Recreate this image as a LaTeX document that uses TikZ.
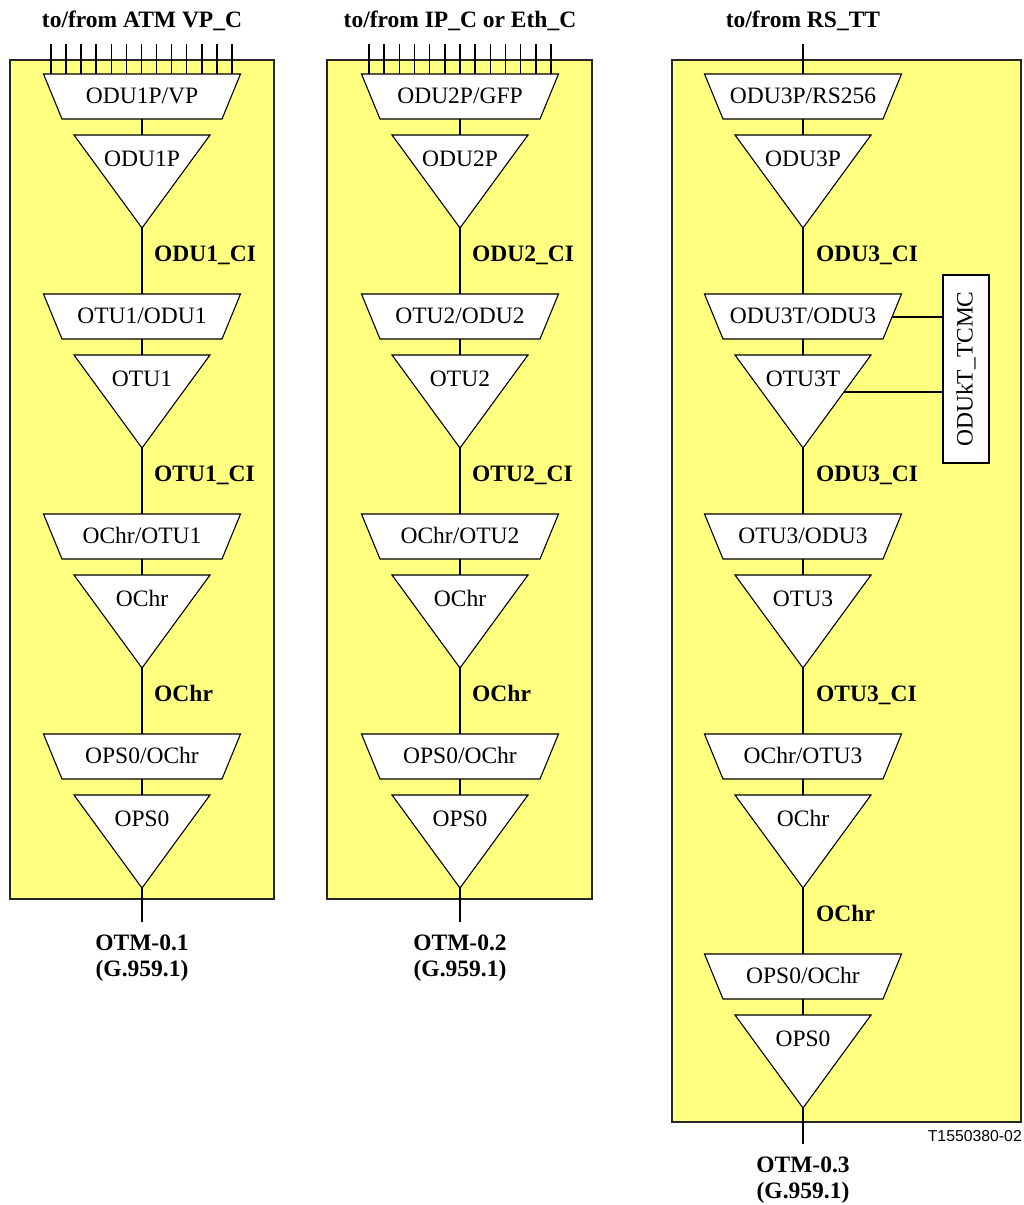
\documentclass[tikz,border=0pt]{standalone}
\usepackage{fontspec}
\setmainfont{Liberation Serif}
\newfontfamily\arialfont{Liberation Sans}
\definecolor{panelyellow}{RGB}{255,255,128}
\tikzset{
  x=1pt, y=-1pt,
  panel/.style={fill=panelyellow, draw=black!85, line width=1.4pt},
  shapefill/.style={fill=white, draw=black, line width=1.1pt},
  conn/.style={draw=black, line width=1.8pt},
  lbl/.style={inner sep=0pt, anchor=base, font=\fontsize{23.5}{28}\selectfont},
  blbl/.style={inner sep=0pt, anchor=base west, font=\fontsize{23.5}{28}\selectfont\bfseries},
  clbl/.style={inner sep=0pt, anchor=base, font=\fontsize{23.5}{28}\selectfont\bfseries},
}
% #1 id, #2 cx, #3 y0, #4 trapezoid text, #5 triangle text
\newcommand\stagepair[5]{%
  \path[shapefill] ({#2-98.5},{#3}) -- ({#2+98.5},{#3}) -- ({#2+80},{#3+45}) -- ({#2-80},{#3+45}) -- cycle;
  \node[lbl] (#1a) at ({#2},{#3+29}) {#4};
  \coordinate (#1at) at ({#2},{#3});
  \coordinate (#1ab) at ({#2},{#3+45});
  \path[shapefill] ({#2-68},{#3+61}) -- ({#2+68},{#3+61}) -- ({#2},{#3+154}) -- cycle;
  \node[lbl] (#1b) at ({#2},{#3+92}) {#5};
  \coordinate (#1bt) at ({#2},{#3+61});
  \coordinate (#1bp) at ({#2},{#3+154});
  \draw[conn] (#1ab) -- (#1bt);
}
\begin{document}
\begin{tikzpicture}
\useasboundingbox (0,0) rectangle (1023,1205);
% panels
\path[panel] (10,60) rectangle (274,899);
\path[panel] (327,60) rectangle (592,899);
\path[panel] (672,60) rectangle (1021,1122);

% top labels
\node[clbl] (top1) at (142,27) {to/from ATM VP\_C};
\node[clbl] (top2) at (460,27) {to/from IP\_C or Eth\_C};
\node[clbl] (top3) at (803,27) {to/from RS\_TT};

% ---------- panel 1 ----------
\stagepair{pa0}{142}{74}{ODU1P/VP}{ODU1P}
\stagepair{pa1}{142}{294}{OTU1/ODU1}{OTU1}
\stagepair{pa2}{142}{514}{OChr/OTU1}{OChr}
\stagepair{pa3}{142}{734}{OPS0/OChr}{OPS0}
\foreach \i in {0,...,12}{\draw[line width=1.5pt] ({51+15.08*\i},44) -- ({51+15.08*\i},74);}
\draw[conn] (pa0bp) -- (pa1at);
\draw[conn] (pa1bp) -- (pa2at);
\draw[conn] (pa2bp) -- (pa3at);
\coordinate (pend) at (142,922);
\draw[conn] (pa3bp) -- (pend);
\node[blbl] (la1) at (154,261) {ODU1\_CI};
\node[blbl] (la2) at (154,481) {OTU1\_CI};
\node[blbl] (la3) at (154,701) {OChr};
\node[clbl] (ota) at (142,950) {OTM-0.1};
\node[clbl] (otb) at (142,976) {(G.959.1)};

% ---------- panel 2 ----------
\stagepair{pb0}{460}{74}{ODU2P/GFP}{ODU2P}
\stagepair{pb1}{460}{294}{OTU2/ODU2}{OTU2}
\stagepair{pb2}{460}{514}{OChr/OTU2}{OChr}
\stagepair{pb3}{460}{734}{OPS0/OChr}{OPS0}
\foreach \i in {0,...,12}{\draw[line width=1.5pt] ({369+15.17*\i},44) -- ({369+15.17*\i},74);}
\draw[conn] (pb0bp) -- (pb1at);
\draw[conn] (pb1bp) -- (pb2at);
\draw[conn] (pb2bp) -- (pb3at);
\coordinate (qend) at (460,922);
\draw[conn] (pb3bp) -- (qend);
\node[blbl] (lb1) at (472,261) {ODU2\_CI};
\node[blbl] (lb2) at (472,481) {OTU2\_CI};
\node[blbl] (lb3) at (472,701) {OChr};
\node[clbl] (otc) at (460,950) {OTM-0.2};
\node[clbl] (otd) at (460,976) {(G.959.1)};

% ---------- panel 3 ----------
\stagepair{pc0}{803}{74}{ODU3P/RS256}{ODU3P}
\stagepair{pc1}{803}{294}{ODU3T/ODU3}{OTU3T}
\stagepair{pc2}{803}{514}{OTU3/ODU3}{OTU3}
\stagepair{pc3}{803}{734}{OChr/OTU3}{OChr}
\stagepair{pc4}{803}{954}{OPS0/OChr}{OPS0}
\coordinate (rtop) at (803,44);
\draw[conn] (rtop) -- (pc0at);
\draw[conn] (pc0bp) -- (pc1at);
\draw[conn] (pc1bp) -- (pc2at);
\draw[conn] (pc2bp) -- (pc3at);
\draw[conn] (pc3bp) -- (pc4at);
\coordinate (rend) at (803,1144);
\draw[conn] (pc4bp) -- (rend);
\node[blbl] (lc1) at (816,261) {ODU3\_CI};
\node[blbl] (lc2) at (816,481) {ODU3\_CI};
\node[blbl] (lc3) at (816,701) {OTU3\_CI};
\node[blbl] (lc4) at (816,921) {OChr};
\node[clbl] (ote) at (803,1172) {OTM-0.3};
\node[clbl] (otf) at (803,1198) {(G.959.1)};

% ODUkT_TCMC box
\node[draw=black, fill=white, line width=1.1pt, rotate=90, minimum width=188pt, minimum height=46pt, inner sep=0pt,
      font=\fontsize{23.5}{28}\selectfont] (tcmc) at (966,369) {ODUkT\_TCMC};
\coordinate (tc1) at (892,317);
\coordinate (tc2) at (844,392);
\draw[line width=1.5pt] (tc1) -- (tc1 -| tcmc.north);
\draw[line width=1.5pt] (tc2) -- (tc2 -| tcmc.north);

% figure id
\node[inner sep=0pt, anchor=base east, font=\arialfont\fontsize{15.8}{18}\selectfont] (figid) at (1022,1141) {T1550380-02};
\end{tikzpicture}
\end{document}
